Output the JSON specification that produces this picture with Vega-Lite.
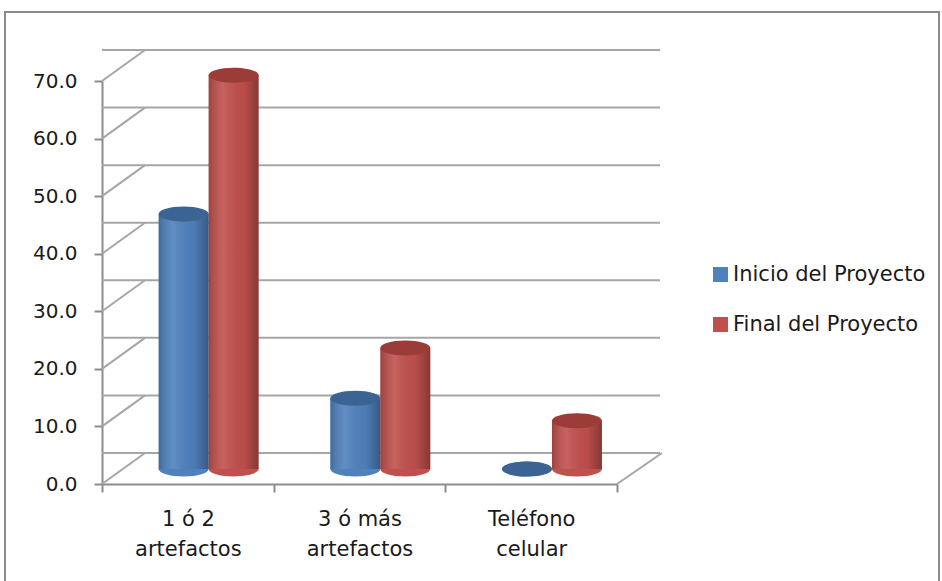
{
  "$schema": "https://vega.github.io/schema/vega-lite/v6.json",
  "width": 515,
  "height": 403,
  "autosize": "none",
  "padding": {"left": 102, "top": 81, "right": 325, "bottom": 97},
  "background": "white",
  "config": {"view": {"stroke": null}, "font": "DejaVu Sans"},
  "datasets": {
    "main": [
      {"categoria": "1 ó 2 artefactos", "serie": "Inicio del Proyecto", "valor": 44.3},
      {"categoria": "1 ó 2 artefactos", "serie": "Final del Proyecto", "valor": 68.4},
      {"categoria": "3 ó más artefactos", "serie": "Inicio del Proyecto", "valor": 12.3},
      {"categoria": "3 ó más artefactos", "serie": "Final del Proyecto", "valor": 21.0},
      {"categoria": "Teléfono celular", "serie": "Inicio del Proyecto", "valor": 0.0},
      {"categoria": "Teléfono celular", "serie": "Final del Proyecto", "valor": 8.4}
    ],
    "grid": [{"v": 0}, {"v": 10}, {"v": 20}, {"v": 30}, {"v": 40}, {"v": 50}, {"v": 60}, {"v": 70}],
    "one": [{"v": 0}]
  },
  "layer": [
    {
      "data": {"name": "one"},
      "mark": {"type": "rect", "fill": null, "stroke": "#8c8c8c", "strokeWidth": 2, "xOffset": -97, "x2Offset": 837, "yOffset": -69, "y2Offset": 520},
      "encoding": {"x": {"value": 0}, "x2": {"value": 0}, "y": {"value": 0}, "y2": {"value": 0}}
    },
    {
      "data": {"name": "grid"},
      "mark": {"type": "rule", "color": "#a6a6a6", "strokeWidth": 2, "xOffset": 43, "x2Offset": 43, "yOffset": -31},
      "encoding": {
        "y": {
          "field": "v", "type": "quantitative", "title": null,
          "scale": {"domain": [0, 70], "nice": false},
          "axis": {
            "values": [0, 10, 20, 30, 40, 50, 60, 70], "format": ".1f", "title": null,
            "labelFontSize": 20, "labelColor": "#1a1a1a", "labelFont": "DejaVu Sans", "labelPadding": 17,
            "tickSize": 8, "tickWidth": 2, "tickColor": "#8c8c8c",
            "domainColor": "#8c8c8c", "domainWidth": 2, "grid": false
          }
        }
      }
    },
    {
      "data": {"name": "grid"},
      "mark": {"type": "rule", "color": "#a6a6a6", "strokeWidth": 2, "x2Offset": 43, "y2Offset": -31},
      "encoding": {
        "x": {"value": 0},
        "x2": {"value": 0},
        "y": {"field": "v", "type": "quantitative", "title": null},
        "y2": {"field": "v"}
      }
    },
    {
      "data": {"name": "one"},
      "mark": {"type": "rule", "color": "#a6a6a6", "strokeWidth": 2, "xOffset": 515, "x2Offset": 560, "y2Offset": -31},
      "encoding": {
        "x": {"value": 0},
        "x2": {"value": 0},
        "y": {"field": "v", "type": "quantitative", "title": null},
        "y2": {"field": "v"}
      }
    },
    {
      "data": {"name": "main"},
      "mark": {"type": "point", "filled": true, "opacity": 1, "strokeWidth": 0, "shape": "M-1,0A1,0.3,0,1,0,1,0A1,0.3,0,1,0,-1,0Z", "size": 2500, "yOffset": -15},
      "encoding": {
        "x": {
          "field": "categoria", "type": "nominal", "sort": null, "title": null,
          "scale": {"paddingInner": 0, "paddingOuter": 0},
          "axis": {
            "title": null, "labelAngle": 0, "labelFontSize": 21, "labelColor": "#1a1a1a", "labelFont": "DejaVu Sans",
            "labelLineHeight": 30, "labelPadding": 16, "labelBaseline": "top",
            "labelExpr": "datum.label == '' ? '' : (datum.label == 'Teléfono celular' ? ['Teléfono', 'celular'] : [replace(datum.label, ' artefactos', ''), 'artefactos'])",
            "tickBand": "extent", "tickSize": 8, "tickWidth": 2, "tickColor": "#8c8c8c",
            "domainColor": "#8c8c8c", "domainWidth": 2, "grid": false
          }
        },
        "xOffset": {
          "field": "serie", "type": "nominal", "sort": ["Inicio del Proyecto", "Final del Proyecto"],
          "scale": {"paddingInner": 0, "paddingOuter": 0.717, "align": 0.79}
        },
        "y": {"datum": 0, "type": "quantitative", "title": null},
        "color": {
          "field": "serie", "type": "nominal",
          "scale": {"domain": ["Inicio del Proyecto", "Final del Proyecto"], "range": ["#4f81bd", "#c0504d"]},
          "legend": {
            "title": null, "orient": "none", "legendX": 608, "legendY": 183, "padding": 0,
            "symbolType": "square", "symbolSize": 225, "symbolStrokeWidth": 0,
            "labelFontSize": 21, "labelColor": "#1a1a1a", "labelFont": "DejaVu Sans", "labelLimit": 400,
            "labelOffset": 2, "rowPadding": 28
          }
        }
      }
    },
    {
      "data": {"name": "main"},
      "mark": {"type": "bar", "yOffset": -15, "y2Offset": -15},
      "encoding": {
        "x": {"field": "categoria", "type": "nominal", "sort": null, "title": null},
        "xOffset": {"field": "serie", "type": "nominal", "sort": ["Inicio del Proyecto", "Final del Proyecto"]},
        "y": {"field": "valor", "type": "quantitative", "title": null},
        "color": {"field": "serie", "type": "nominal"}
      }
    },
    {
      "data": {"name": "main"},
      "mark": {
        "type": "bar", "yOffset": -15, "y2Offset": -15,
        "color": {
          "gradient": "linear", "x1": 0, "x2": 1, "y1": 0, "y2": 0,
          "stops": [
            {"offset": 0, "color": "rgba(0,0,0,0.18)"},
            {"offset": 0.3, "color": "rgba(255,255,255,0.10)"},
            {"offset": 0.7, "color": "rgba(0,0,0,0.03)"},
            {"offset": 1, "color": "rgba(0,0,0,0.30)"}
          ]
        }
      },
      "encoding": {
        "x": {"field": "categoria", "type": "nominal", "sort": null, "title": null},
        "xOffset": {"field": "serie", "type": "nominal", "sort": ["Inicio del Proyecto", "Final del Proyecto"]},
        "y": {"field": "valor", "type": "quantitative", "title": null}
      }
    },
    {
      "data": {"name": "main"},
      "mark": {"type": "point", "filled": true, "opacity": 1, "strokeWidth": 0, "shape": "M-1,0A1,0.3,0,1,0,1,0A1,0.3,0,1,0,-1,0Z", "size": 2500, "yOffset": -15},
      "encoding": {
        "x": {"field": "categoria", "type": "nominal", "sort": null, "title": null},
        "xOffset": {"field": "serie", "type": "nominal", "sort": ["Inicio del Proyecto", "Final del Proyecto"]},
        "y": {"field": "valor", "type": "quantitative", "title": null},
        "fill": {
          "field": "serie", "type": "nominal",
          "scale": {"domain": ["Inicio del Proyecto", "Final del Proyecto"], "range": ["#3b6495", "#9b3c39"]},
          "legend": null
        }
      }
    }
  ]
}
